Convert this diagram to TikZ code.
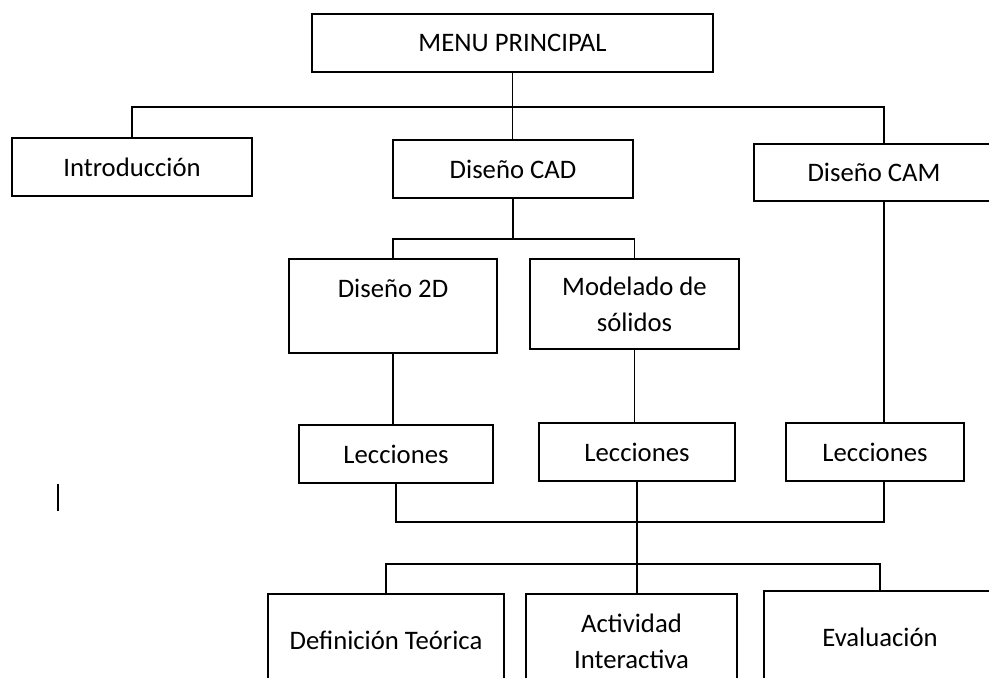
\documentclass[tikz,border=0pt]{standalone}
\usepackage{fontspec}
\setmainfont{Carlito}
\usepackage{tikz}

\tikzset{caja/.style={draw, line width=0.8pt, inner sep=0pt, align=center, font=\fontsize{15.2}{20.5}\selectfont}}

\begin{document}
\begin{tikzpicture}[x=0.02cm, y=-0.02cm, line width=0.8pt]
	\useasboundingbox (0,0) rectangle (989,677);
	\clip (0,0) rectangle (989,677);
	\node[caja, minimum width=8.02cm, minimum height=1.16cm] (menu) at (512.5,43) {MENU PRINCIPAL};
	\node[caja, minimum width=4.8cm, minimum height=1.16cm] (intro) at (132,167) {Introducción};
	\node[caja, minimum width=4.8cm, minimum height=1.16cm] (cad) at (513,169) {Diseño CAD};
	\node[caja, minimum width=4.8cm, minimum height=1.14cm] (cam) at (874,172.5) {Diseño CAM};
	\node[caja, minimum width=4.16cm, minimum height=1.88cm] (d2d) at (393,306) {Diseño 2D\\~};
	\node[caja, minimum width=4.18cm, minimum height=1.8cm] (solid) at (634.5,304) {Modelado de\\sólidos};
	\node[caja, minimum width=3.88cm, minimum height=1.16cm] (lec1) at (396,454) {Lecciones};
	\node[caja, minimum width=3.92cm, minimum height=1.16cm] (lec2) at (637,452) {Lecciones};
	\node[caja, minimum width=3.56cm, minimum height=1.16cm] (lec3) at (875,452) {Lecciones};
	\node[caja, minimum width=4.72cm, minimum height=1.84cm] (defi) at (386,640) {Definición Teórica};
	\node[caja, minimum width=4.22cm, minimum height=1.9cm] (acti) at (631.5,641.5) {Actividad\\Interactiva};
	\node[caja, minimum width=4.64cm, minimum height=1.84cm] (eval) at (880,637) {Evaluación};
	\coordinate (camx) at (884,0);
	\coordinate (bus1) at (511,107);
	\coordinate (bus2) at (511,239);
	\coordinate (bus3) at (636,522);
	\coordinate (bus4) at (636,564);
	\draw (menu.south) -- (menu.south |- cad.north);
	\draw (intro.north) |- (bus1) -| (cam.north -| camx);
	\draw (cad.south) -- (cad.south |- bus2);
	\draw (d2d.north) |- (bus2) -| (solid.north);
	\draw (d2d.south) -- (d2d.south |- lec1.north);
	\draw (solid.south) -- (solid.south |- lec2.north);
	\draw (cam.south -| camx) -- (lec3.north -| camx);
	\draw (lec1.south) |- (bus3) -| (lec3.south -| camx);
	\draw (lec2.south) -- (lec2.south |- acti.north);
	\draw (defi.north) |- (bus4) -| (eval.north);
	\draw (58,484) -- (58,511);
\end{tikzpicture}
\end{document}
